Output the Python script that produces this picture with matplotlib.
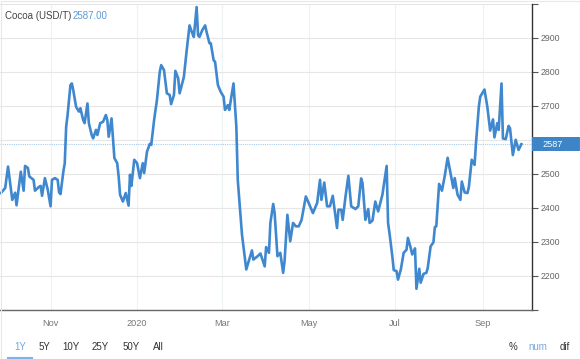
import pandas as pd
import numpy as np
import matplotlib.pyplot as plt
import matplotlib.dates as mdates
from matplotlib.patches import Rectangle
from matplotlib.lines import Line2D
from matplotlib.transforms import blended_transform_factory

plt.rcParams['font.family'] = ['Liberation Sans', 'DejaVu Sans']

# Kakao-Preis (USD/T)
datum = ['2019-09-27', '2019-09-30', '2019-10-02', '2019-10-05', '2019-10-07', '2019-10-08', '2019-10-11', '2019-10-13',
         '2019-10-14', '2019-10-16', '2019-10-17', '2019-10-20', '2019-10-21', '2019-10-24', '2019-10-25', '2019-10-26',
         '2019-10-28', '2019-10-30',
         '2019-11-01', '2019-11-02', '2019-11-04', '2019-11-06', '2019-11-07', '2019-11-08', '2019-11-10', '2019-11-11',
         '2019-11-12', '2019-11-13', '2019-11-15', '2019-11-16', '2019-11-17', '2019-11-19', '2019-11-21', '2019-11-22',
         '2019-11-24', '2019-11-25', '2019-11-27', '2019-11-28', '2019-11-30',
         '2019-12-01', '2019-12-03', '2019-12-04', '2019-12-06', '2019-12-08', '2019-12-10', '2019-12-11', '2019-12-12',
         '2019-12-14', '2019-12-16', '2019-12-18', '2019-12-19', '2019-12-20', '2019-12-22', '2019-12-24', '2019-12-26',
         '2019-12-27', '2019-12-28', '2019-12-30',
         '2020-01-01', '2020-01-03', '2020-01-05', '2020-01-06', '2020-01-08', '2020-01-10', '2020-01-11', '2020-01-13',
         '2020-01-14', '2020-01-15', '2020-01-17', '2020-01-18', '2020-01-20', '2020-01-22', '2020-01-24', '2020-01-25',
         '2020-01-27', '2020-01-28', '2020-01-30', '2020-01-31',
         '2020-02-03', '2020-02-05', '2020-02-07', '2020-02-09', '2020-02-10', '2020-02-12', '2020-02-13', '2020-02-14',
         '2020-02-16', '2020-02-18', '2020-02-19', '2020-02-21', '2020-02-22', '2020-02-24', '2020-02-25', '2020-02-27',
         '2020-02-29',
         '2020-03-02', '2020-03-03', '2020-03-05', '2020-03-06', '2020-03-09', '2020-03-11', '2020-03-12', '2020-03-15',
         '2020-03-18', '2020-03-19', '2020-03-22', '2020-03-23', '2020-03-26', '2020-03-28', '2020-03-31',
         '2020-04-01', '2020-04-03', '2020-04-04', '2020-04-06', '2020-04-07', '2020-04-09', '2020-04-11', '2020-04-13',
         '2020-04-14', '2020-04-16', '2020-04-18', '2020-04-20', '2020-04-22', '2020-04-24', '2020-04-26', '2020-04-29',
         '2020-05-01', '2020-05-04', '2020-05-07', '2020-05-09', '2020-05-10', '2020-05-12', '2020-05-14', '2020-05-16',
         '2020-05-18', '2020-05-19', '2020-05-21', '2020-05-22', '2020-05-24', '2020-05-25', '2020-05-27', '2020-05-29',
         '2020-05-31',
         '2020-06-03', '2020-06-05', '2020-06-07', '2020-06-08', '2020-06-10', '2020-06-12', '2020-06-13', '2020-06-15',
         '2020-06-17', '2020-06-19', '2020-06-22', '2020-06-25', '2020-06-26', '2020-06-27', '2020-06-29', '2020-06-30',
         '2020-07-02', '2020-07-03', '2020-07-05', '2020-07-07', '2020-07-09', '2020-07-10', '2020-07-12', '2020-07-13',
         '2020-07-15', '2020-07-16', '2020-07-18', '2020-07-19', '2020-07-21', '2020-07-23', '2020-07-24', '2020-07-26',
         '2020-07-28', '2020-07-29', '2020-07-30',
         '2020-08-01', '2020-08-03', '2020-08-05', '2020-08-07', '2020-08-09', '2020-08-11', '2020-08-12', '2020-08-14',
         '2020-08-16', '2020-08-17', '2020-08-19', '2020-08-21', '2020-08-22', '2020-08-24', '2020-08-26', '2020-08-27',
         '2020-08-29', '2020-08-30',
         '2020-09-02', '2020-09-04', '2020-09-06', '2020-09-08', '2020-09-09', '2020-09-11', '2020-09-12', '2020-09-14',
         '2020-09-15', '2020-09-17', '2020-09-19', '2020-09-20', '2020-09-22', '2020-09-23', '2020-09-24', '2020-09-26',
         '2020-09-28']

preis = [2443, 2458, 2521, 2423, 2444, 2407, 2506, 2450, 2523, 2517, 2492, 2482, 2450, 2462, 2464, 2435, 2487, 2453,
         2404, 2482, 2487, 2482, 2445, 2440, 2506, 2531, 2639, 2673, 2761, 2766, 2746, 2697, 2683, 2693, 2658, 2649,
         2707, 2649, 2614,
         2604, 2629, 2614, 2649, 2653, 2673, 2658, 2609, 2663, 2546, 2531, 2492, 2438, 2418, 2443, 2406, 2497, 2464, 2541,
         2531, 2487, 2531, 2502, 2565, 2588, 2585, 2658, 2688, 2717, 2800, 2820, 2805, 2737, 2732, 2705, 2732, 2803,
         2781, 2737,
         2785, 2864, 2937, 2913, 2903, 2991, 2908, 2903, 2923, 2937, 2918, 2885, 2884, 2834, 2830, 2761, 2741,
         2727, 2688, 2702, 2688, 2766, 2639, 2482, 2320, 2218, 2232, 2274, 2247, 2257, 2265, 2227,
         2284, 2267, 2355, 2411, 2384, 2257, 2267, 2208, 2242, 2379, 2301, 2355, 2345, 2345, 2364, 2433,
         2414, 2384, 2414, 2482, 2423, 2474, 2404, 2404, 2435, 2404, 2340, 2394, 2394, 2364, 2433, 2494, 2404,
         2396, 2404, 2486, 2472, 2364, 2396, 2355, 2362, 2418, 2389, 2438, 2523, 2355, 2325, 2257, 2216,
         2213, 2188, 2218, 2267, 2276, 2311, 2281, 2262, 2280, 2161, 2220, 2179, 2205, 2208, 2223, 2286, 2298, 2343, 2345,
         2470, 2450, 2494, 2547, 2502, 2458, 2487, 2438, 2423, 2477, 2445, 2443, 2462, 2541, 2526, 2590, 2697, 2727,
         2748, 2697, 2627, 2660, 2607, 2649, 2629, 2766, 2604, 2602, 2641, 2634, 2555, 2578, 2600, 2570, 2587]

letzter = 2587
monate = ['2019-11-01', '2020-01-01', '2020-03-01', '2020-05-01', '2020-07-01', '2020-09-01']
monat_labels = ['Nov', '2020', 'Mar', 'May', 'Jul', 'Sep']
y_ticks = [2100, 2200, 2300, 2400, 2500, 2600, 2700, 2800, 2900, 3000]
# 2600 liegt hinter dem Preis-Label, 2100/3000 ohne Beschriftung
y_labels = ['', '2200', '2300', '2400', '2500', '', '2700', '2800', '2900', '']

df = pd.DataFrame({'datum': pd.to_datetime(datum), 'preis': preis})

W, H = 580, 359
fig = plt.figure(figsize=(W / 100, H / 100), dpi=100)
ax = fig.add_axes([0, 49.5 / H, 532 / W, 305.5 / H])

ax.plot(df['datum'], df['preis'], color='#3f88cf', lw=1.9, zorder=3, solid_joinstyle='round')
ax.axhline(letzter, color='#a9cbea', lw=0.8, ls=(0, (1, 1)), zorder=2)

ax.set_xlim(pd.Timestamp('2019-09-26 08:00'), pd.Timestamp('2020-10-05 12:00'))
ax.set_ylim(2100, 3000)

# Achsen
for s in ['left', 'top']:
    ax.spines[s].set_visible(False)
ax.spines['right'].set_color('#333333')
ax.spines['right'].set_linewidth(1)
ax.spines['bottom'].set_color('#666666')
ax.spines['bottom'].set_linewidth(1)

ax.yaxis.tick_right()
ax.set_yticks(y_ticks)
ax.set_yticklabels(y_labels)
ax.tick_params(axis='y', length=4, width=0.8, color='#555555', labelsize=6.3, labelcolor='#666666', pad=2)

ax.set_xticks(pd.to_datetime(monate))
ax.set_xticklabels(monat_labels)
ax.tick_params(axis='x', length=0, labelsize=6.6, labelcolor='#777777', pad=7)

ax.grid(axis='y', color='#e6e6e6', lw=0.8)
ax.grid(axis='x', color='#edf2f5', lw=0.8)
ax.set_axisbelow(True)

# Preis-Label rechts
trans = blended_transform_factory(ax.transAxes, ax.transData)
ax.add_patch(Rectangle((1.0, letzter - 20), 0.1, 40, transform=trans, facecolor='#3d85c6',
                       edgecolor='none', clip_on=False, zorder=5))
ax.text(553 / 532, letzter, str(letzter), transform=trans, color='white', fontsize=6.6,
        ha='center', va='center', zorder=6, clip_on=False)

# Titel
fig.text(5 / W, 1 - 16 / H, 'Cocoa (USD/T)', fontsize=7, color='#444444', va='center')
fig.text(73 / W, 1 - 16 / H, '2587.00', fontsize=7, color='#5b9bd5', va='center')

# Knöpfe unten
knoepfe = [('1Y', 20, '#6fa8dc'), ('5Y', 44, '#333333'), ('10Y', 71, '#333333'), ('25Y', 100, '#333333'),
           ('50Y', 131, '#333333'), ('All', 158, '#333333'), ('%', 513, '#333333'), ('num', 538, '#7aa7d6'),
           ('dif', 565, '#333333')]
for txt, xp, col in knoepfe:
    fig.text(xp / W, 1 - 346.5 / H, txt, fontsize=7, color=col, ha='center', va='center')
fig.add_artist(Line2D([8 / W, 32 / W], [1.5 / H, 1.5 / H], color='#7cb5ec', lw=1.5))
fig.add_artist(Rectangle((0.5 / W, 0.5 / H), 1 - 1 / W, 1 - 1 / H, transform=fig.transFigure,
                         facecolor='none', edgecolor='#e8e8e8', lw=0.8))

plt.savefig('out.png', dpi=100)
